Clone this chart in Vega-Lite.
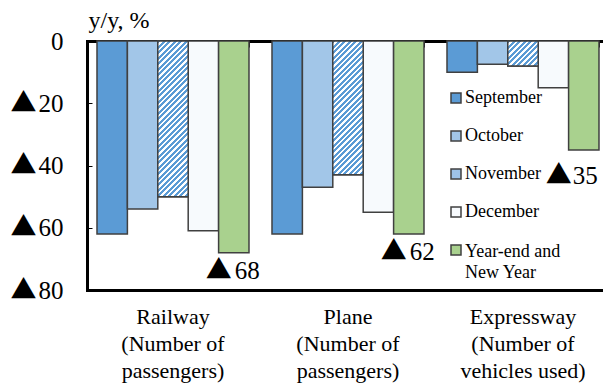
{
  "$schema": "https://vega.github.io/schema/vega-lite/v6.json",
  "width": 516,
  "height": 249,
  "autosize": "none",
  "padding": {"left": 87, "top": 41, "right": 0, "bottom": 93},
  "background": "white",
  "config": {
    "font": "Liberation Serif",
    "view": {"stroke": null},
    "axis": {"labelColor": "black", "titleColor": "black", "labelFont": "Liberation Serif", "titleFont": "Liberation Serif"},
    "legend": {"labelColor": "black", "labelFont": "Liberation Serif"}
  },
  "data": {
    "values": [
      {"cat": "Railway", "month": "September", "v": -62},
      {"cat": "Railway", "month": "October", "v": -54},
      {"cat": "Railway", "month": "November", "v": -50},
      {"cat": "Railway", "month": "December", "v": -61},
      {"cat": "Railway", "month": "Year-end and New Year", "v": -68},
      {"cat": "Plane", "month": "September", "v": -62},
      {"cat": "Plane", "month": "October", "v": -47},
      {"cat": "Plane", "month": "November", "v": -43},
      {"cat": "Plane", "month": "December", "v": -55},
      {"cat": "Plane", "month": "Year-end and New Year", "v": -62},
      {"cat": "Expressway", "month": "September", "v": -10},
      {"cat": "Expressway", "month": "October", "v": -7.5},
      {"cat": "Expressway", "month": "November", "v": -8},
      {"cat": "Expressway", "month": "December", "v": -15},
      {"cat": "Expressway", "month": "Year-end and New Year", "v": -35}
    ]
  },
  "encoding": {
    "x": {
      "field": "cat",
      "type": "nominal",
      "sort": ["Railway", "Plane", "Expressway"],
      "scale": {"paddingInner": 0.1314, "paddingOuter": 0.04, "align": 0.714},
      "axis": null
    },
    "xOffset": {
      "field": "month",
      "sort": ["September", "October", "November", "December", "Year-end and New Year"],
      "scale": {"paddingInner": 0, "paddingOuter": 0}
    },
    "y": {
      "field": "v",
      "type": "quantitative",
      "scale": {"domain": [-80, 0], "nice": false},
      "axis": null
    }
  },
  "resolve": {"axis": {"x": "independent", "y": "independent"}},
  "layer": [
    {
      "mark": {"type": "bar", "stroke": "#404040", "strokeWidth": 1.5},
      "encoding": {
        "x": {
          "field": "cat",
          "type": "nominal",
          "sort": ["Railway", "Plane", "Expressway"],
          "scale": {"paddingInner": 0.1314, "paddingOuter": 0.04, "align": 0.714},
          "axis": {
            "orient": "bottom",
            "title": null,
            "domain": true,
            "domainColor": "black",
            "domainWidth": 3,
            "domainCap": "square",
            "ticks": false,
            "labelAngle": 0,
            "labelFontSize": 22,
            "labelLineHeight": 27,
            "labelPadding": 16,
            "labelBaseline": "top",
            "labelExpr": "datum.label == 'Expressway' ? [datum.label, '(Number of', 'vehicles used)'] : [datum.label, '(Number of', 'passengers)']"
          }
        },
        "y": {
          "field": "v",
          "type": "quantitative",
          "scale": {"domain": [-80, 0], "nice": false},
          "axis": {
            "orient": "left",
            "values": [0, -20, -40, -60, -80],
            "grid": false,
            "domain": true,
            "domainColor": "black",
            "domainWidth": 3,
            "domainCap": "square",
            "tickSize": -5,
            "tickColor": "black",
            "tickWidth": 1,
            "labelFontSize": 25,
            "labelPadding": 29,
            "labelExpr": "datum.value == 0 ? '0' : '' + abs(datum.value)",
            "title": "y/y, %",
            "titleAngle": 0,
            "titleFontSize": 24,
            "titleFontWeight": "normal",
            "titleAlign": "left",
            "titleBaseline": "alphabetic",
            "titleX": 1,
            "titleY": -14
          }
        },
        "color": {
          "field": "month",
          "type": "nominal",
          "scale": {
            "domain": ["September", "October", "November", "December", "Year-end and New Year"],
            "range": ["#5B9BD5", "#A2C6E8", "#9DC2E8", "#F7FAFD", "#A9D18E"]
          },
          "legend": {
            "title": null,
            "orient": "none",
            "legendX": 360,
            "legendY": 48,
            "padding": 0,
            "symbolType": "square",
            "symbolSize": 100,
            "symbolStrokeColor": "#404040",
            "symbolStrokeWidth": 1.5,
            "symbolOpacity": 1,
            "labelFontSize": 18,
            "labelOffset": 0,
            "labelLimit": 200,
            "rowPadding": 20,
            "labelExpr": "datum.label == 'Year-end and New Year' ? ['Year-end and', 'New Year'] : datum.label",
            "encode": {
              "labels": {"update": {"dy": {"signal": "datum.value == 'Year-end and New Year' ? 2 : 0"}, "lineHeight": {"value": 21}}}
            }
          }
        }
      }
    },
    {
      "transform": [{"filter": "datum.month == 'November' && datum.cat == 'Railway'"}],
      "mark": {
        "type": "bar",
        "stroke": "#404040",
        "strokeWidth": 1.5,
        "fill": {
          "gradient": "linear", "x1": 0, "y1": 0, "x2": 0.2661, "y2": 1.3619,
          "stops": [
            {"offset": 0, "color": "#5B9BD5"},
            {"offset": 0.0125, "color": "#5B9BD5"}, {"offset": 0.0125, "color": "#FFFFFF"}, {"offset": 0.025, "color": "#FFFFFF"}, {"offset": 0.025, "color": "#5B9BD5"},
            {"offset": 0.0375, "color": "#5B9BD5"}, {"offset": 0.0375, "color": "#FFFFFF"}, {"offset": 0.05, "color": "#FFFFFF"}, {"offset": 0.05, "color": "#5B9BD5"},
            {"offset": 0.0625, "color": "#5B9BD5"}, {"offset": 0.0625, "color": "#FFFFFF"}, {"offset": 0.075, "color": "#FFFFFF"}, {"offset": 0.075, "color": "#5B9BD5"},
            {"offset": 0.0875, "color": "#5B9BD5"}, {"offset": 0.0875, "color": "#FFFFFF"}, {"offset": 0.1, "color": "#FFFFFF"}, {"offset": 0.1, "color": "#5B9BD5"},
            {"offset": 0.1125, "color": "#5B9BD5"}, {"offset": 0.1125, "color": "#FFFFFF"}, {"offset": 0.125, "color": "#FFFFFF"}, {"offset": 0.125, "color": "#5B9BD5"},
            {"offset": 0.1375, "color": "#5B9BD5"}, {"offset": 0.1375, "color": "#FFFFFF"}, {"offset": 0.15, "color": "#FFFFFF"}, {"offset": 0.15, "color": "#5B9BD5"},
            {"offset": 0.1625, "color": "#5B9BD5"}, {"offset": 0.1625, "color": "#FFFFFF"}, {"offset": 0.175, "color": "#FFFFFF"}, {"offset": 0.175, "color": "#5B9BD5"},
            {"offset": 0.1875, "color": "#5B9BD5"}, {"offset": 0.1875, "color": "#FFFFFF"}, {"offset": 0.2, "color": "#FFFFFF"}, {"offset": 0.2, "color": "#5B9BD5"},
            {"offset": 0.2125, "color": "#5B9BD5"}, {"offset": 0.2125, "color": "#FFFFFF"}, {"offset": 0.225, "color": "#FFFFFF"}, {"offset": 0.225, "color": "#5B9BD5"},
            {"offset": 0.2375, "color": "#5B9BD5"}, {"offset": 0.2375, "color": "#FFFFFF"}, {"offset": 0.25, "color": "#FFFFFF"}, {"offset": 0.25, "color": "#5B9BD5"},
            {"offset": 0.2625, "color": "#5B9BD5"}, {"offset": 0.2625, "color": "#FFFFFF"}, {"offset": 0.275, "color": "#FFFFFF"}, {"offset": 0.275, "color": "#5B9BD5"},
            {"offset": 0.2875, "color": "#5B9BD5"}, {"offset": 0.2875, "color": "#FFFFFF"}, {"offset": 0.3, "color": "#FFFFFF"}, {"offset": 0.3, "color": "#5B9BD5"},
            {"offset": 0.3125, "color": "#5B9BD5"}, {"offset": 0.3125, "color": "#FFFFFF"}, {"offset": 0.325, "color": "#FFFFFF"}, {"offset": 0.325, "color": "#5B9BD5"},
            {"offset": 0.3375, "color": "#5B9BD5"}, {"offset": 0.3375, "color": "#FFFFFF"}, {"offset": 0.35, "color": "#FFFFFF"}, {"offset": 0.35, "color": "#5B9BD5"},
            {"offset": 0.3625, "color": "#5B9BD5"}, {"offset": 0.3625, "color": "#FFFFFF"}, {"offset": 0.375, "color": "#FFFFFF"}, {"offset": 0.375, "color": "#5B9BD5"},
            {"offset": 0.3875, "color": "#5B9BD5"}, {"offset": 0.3875, "color": "#FFFFFF"}, {"offset": 0.4, "color": "#FFFFFF"}, {"offset": 0.4, "color": "#5B9BD5"},
            {"offset": 0.4125, "color": "#5B9BD5"}, {"offset": 0.4125, "color": "#FFFFFF"}, {"offset": 0.425, "color": "#FFFFFF"}, {"offset": 0.425, "color": "#5B9BD5"},
            {"offset": 0.4375, "color": "#5B9BD5"}, {"offset": 0.4375, "color": "#FFFFFF"}, {"offset": 0.45, "color": "#FFFFFF"}, {"offset": 0.45, "color": "#5B9BD5"},
            {"offset": 0.4625, "color": "#5B9BD5"}, {"offset": 0.4625, "color": "#FFFFFF"}, {"offset": 0.475, "color": "#FFFFFF"}, {"offset": 0.475, "color": "#5B9BD5"},
            {"offset": 0.4875, "color": "#5B9BD5"}, {"offset": 0.4875, "color": "#FFFFFF"}, {"offset": 0.5, "color": "#FFFFFF"}, {"offset": 0.5, "color": "#5B9BD5"},
            {"offset": 0.5125, "color": "#5B9BD5"}, {"offset": 0.5125, "color": "#FFFFFF"}, {"offset": 0.525, "color": "#FFFFFF"}, {"offset": 0.525, "color": "#5B9BD5"},
            {"offset": 0.5375, "color": "#5B9BD5"}, {"offset": 0.5375, "color": "#FFFFFF"}, {"offset": 0.55, "color": "#FFFFFF"}, {"offset": 0.55, "color": "#5B9BD5"},
            {"offset": 0.5625, "color": "#5B9BD5"}, {"offset": 0.5625, "color": "#FFFFFF"}, {"offset": 0.575, "color": "#FFFFFF"}, {"offset": 0.575, "color": "#5B9BD5"},
            {"offset": 0.5875, "color": "#5B9BD5"}, {"offset": 0.5875, "color": "#FFFFFF"}, {"offset": 0.6, "color": "#FFFFFF"}, {"offset": 0.6, "color": "#5B9BD5"},
            {"offset": 0.6125, "color": "#5B9BD5"}, {"offset": 0.6125, "color": "#FFFFFF"}, {"offset": 0.625, "color": "#FFFFFF"}, {"offset": 0.625, "color": "#5B9BD5"},
            {"offset": 0.6375, "color": "#5B9BD5"}, {"offset": 0.6375, "color": "#FFFFFF"}, {"offset": 0.65, "color": "#FFFFFF"}, {"offset": 0.65, "color": "#5B9BD5"},
            {"offset": 0.6625, "color": "#5B9BD5"}, {"offset": 0.6625, "color": "#FFFFFF"}, {"offset": 0.675, "color": "#FFFFFF"}, {"offset": 0.675, "color": "#5B9BD5"},
            {"offset": 0.6875, "color": "#5B9BD5"}, {"offset": 0.6875, "color": "#FFFFFF"}, {"offset": 0.7, "color": "#FFFFFF"}, {"offset": 0.7, "color": "#5B9BD5"},
            {"offset": 0.7125, "color": "#5B9BD5"}, {"offset": 0.7125, "color": "#FFFFFF"}, {"offset": 0.725, "color": "#FFFFFF"}, {"offset": 0.725, "color": "#5B9BD5"},
            {"offset": 0.7375, "color": "#5B9BD5"}, {"offset": 0.7375, "color": "#FFFFFF"}, {"offset": 0.75, "color": "#FFFFFF"}, {"offset": 0.75, "color": "#5B9BD5"},
            {"offset": 0.7625, "color": "#5B9BD5"}, {"offset": 0.7625, "color": "#FFFFFF"}, {"offset": 0.775, "color": "#FFFFFF"}, {"offset": 0.775, "color": "#5B9BD5"},
            {"offset": 0.7875, "color": "#5B9BD5"}, {"offset": 0.7875, "color": "#FFFFFF"}, {"offset": 0.8, "color": "#FFFFFF"}, {"offset": 0.8, "color": "#5B9BD5"},
            {"offset": 0.8125, "color": "#5B9BD5"}, {"offset": 0.8125, "color": "#FFFFFF"}, {"offset": 0.825, "color": "#FFFFFF"}, {"offset": 0.825, "color": "#5B9BD5"},
            {"offset": 0.8375, "color": "#5B9BD5"}, {"offset": 0.8375, "color": "#FFFFFF"}, {"offset": 0.85, "color": "#FFFFFF"}, {"offset": 0.85, "color": "#5B9BD5"}
          ]
        }
      },
      "encoding": {
        "x": {
          "field": "cat",
          "type": "nominal",
          "sort": ["Railway", "Plane", "Expressway"],
          "scale": {"paddingInner": 0.1314, "paddingOuter": 0.04, "align": 0.714},
          "axis": {
            "orient": "top",
            "title": null,
            "labels": false,
            "domain": true,
            "domainColor": "black",
            "domainWidth": 3,
            "domainCap": "square",
            "ticks": true,
            "tickBand": "extent",
            "tickSize": -6,
            "tickColor": "black",
            "tickWidth": 1
          }
        }
      }
    },
    {
      "transform": [{"filter": "datum.month == 'November' && datum.cat == 'Plane'"}],
      "mark": {
        "type": "bar",
        "stroke": "#404040",
        "strokeWidth": 1.5,
        "fill": {
          "gradient": "linear", "x1": 0, "y1": 0, "x2": 0.3552, "y2": 1.5635,
          "stops": [
            {"offset": 0, "color": "#5B9BD5"},
            {"offset": 0.0125, "color": "#5B9BD5"}, {"offset": 0.0125, "color": "#FFFFFF"}, {"offset": 0.025, "color": "#FFFFFF"}, {"offset": 0.025, "color": "#5B9BD5"},
            {"offset": 0.0375, "color": "#5B9BD5"}, {"offset": 0.0375, "color": "#FFFFFF"}, {"offset": 0.05, "color": "#FFFFFF"}, {"offset": 0.05, "color": "#5B9BD5"},
            {"offset": 0.0625, "color": "#5B9BD5"}, {"offset": 0.0625, "color": "#FFFFFF"}, {"offset": 0.075, "color": "#FFFFFF"}, {"offset": 0.075, "color": "#5B9BD5"},
            {"offset": 0.0875, "color": "#5B9BD5"}, {"offset": 0.0875, "color": "#FFFFFF"}, {"offset": 0.1, "color": "#FFFFFF"}, {"offset": 0.1, "color": "#5B9BD5"},
            {"offset": 0.1125, "color": "#5B9BD5"}, {"offset": 0.1125, "color": "#FFFFFF"}, {"offset": 0.125, "color": "#FFFFFF"}, {"offset": 0.125, "color": "#5B9BD5"},
            {"offset": 0.1375, "color": "#5B9BD5"}, {"offset": 0.1375, "color": "#FFFFFF"}, {"offset": 0.15, "color": "#FFFFFF"}, {"offset": 0.15, "color": "#5B9BD5"},
            {"offset": 0.1625, "color": "#5B9BD5"}, {"offset": 0.1625, "color": "#FFFFFF"}, {"offset": 0.175, "color": "#FFFFFF"}, {"offset": 0.175, "color": "#5B9BD5"},
            {"offset": 0.1875, "color": "#5B9BD5"}, {"offset": 0.1875, "color": "#FFFFFF"}, {"offset": 0.2, "color": "#FFFFFF"}, {"offset": 0.2, "color": "#5B9BD5"},
            {"offset": 0.2125, "color": "#5B9BD5"}, {"offset": 0.2125, "color": "#FFFFFF"}, {"offset": 0.225, "color": "#FFFFFF"}, {"offset": 0.225, "color": "#5B9BD5"},
            {"offset": 0.2375, "color": "#5B9BD5"}, {"offset": 0.2375, "color": "#FFFFFF"}, {"offset": 0.25, "color": "#FFFFFF"}, {"offset": 0.25, "color": "#5B9BD5"},
            {"offset": 0.2625, "color": "#5B9BD5"}, {"offset": 0.2625, "color": "#FFFFFF"}, {"offset": 0.275, "color": "#FFFFFF"}, {"offset": 0.275, "color": "#5B9BD5"},
            {"offset": 0.2875, "color": "#5B9BD5"}, {"offset": 0.2875, "color": "#FFFFFF"}, {"offset": 0.3, "color": "#FFFFFF"}, {"offset": 0.3, "color": "#5B9BD5"},
            {"offset": 0.3125, "color": "#5B9BD5"}, {"offset": 0.3125, "color": "#FFFFFF"}, {"offset": 0.325, "color": "#FFFFFF"}, {"offset": 0.325, "color": "#5B9BD5"},
            {"offset": 0.3375, "color": "#5B9BD5"}, {"offset": 0.3375, "color": "#FFFFFF"}, {"offset": 0.35, "color": "#FFFFFF"}, {"offset": 0.35, "color": "#5B9BD5"},
            {"offset": 0.3625, "color": "#5B9BD5"}, {"offset": 0.3625, "color": "#FFFFFF"}, {"offset": 0.375, "color": "#FFFFFF"}, {"offset": 0.375, "color": "#5B9BD5"},
            {"offset": 0.3875, "color": "#5B9BD5"}, {"offset": 0.3875, "color": "#FFFFFF"}, {"offset": 0.4, "color": "#FFFFFF"}, {"offset": 0.4, "color": "#5B9BD5"},
            {"offset": 0.4125, "color": "#5B9BD5"}, {"offset": 0.4125, "color": "#FFFFFF"}, {"offset": 0.425, "color": "#FFFFFF"}, {"offset": 0.425, "color": "#5B9BD5"},
            {"offset": 0.4375, "color": "#5B9BD5"}, {"offset": 0.4375, "color": "#FFFFFF"}, {"offset": 0.45, "color": "#FFFFFF"}, {"offset": 0.45, "color": "#5B9BD5"},
            {"offset": 0.4625, "color": "#5B9BD5"}, {"offset": 0.4625, "color": "#FFFFFF"}, {"offset": 0.475, "color": "#FFFFFF"}, {"offset": 0.475, "color": "#5B9BD5"},
            {"offset": 0.4875, "color": "#5B9BD5"}, {"offset": 0.4875, "color": "#FFFFFF"}, {"offset": 0.5, "color": "#FFFFFF"}, {"offset": 0.5, "color": "#5B9BD5"},
            {"offset": 0.5125, "color": "#5B9BD5"}, {"offset": 0.5125, "color": "#FFFFFF"}, {"offset": 0.525, "color": "#FFFFFF"}, {"offset": 0.525, "color": "#5B9BD5"},
            {"offset": 0.5375, "color": "#5B9BD5"}, {"offset": 0.5375, "color": "#FFFFFF"}, {"offset": 0.55, "color": "#FFFFFF"}, {"offset": 0.55, "color": "#5B9BD5"},
            {"offset": 0.5625, "color": "#5B9BD5"}, {"offset": 0.5625, "color": "#FFFFFF"}, {"offset": 0.575, "color": "#FFFFFF"}, {"offset": 0.575, "color": "#5B9BD5"},
            {"offset": 0.5875, "color": "#5B9BD5"}, {"offset": 0.5875, "color": "#FFFFFF"}, {"offset": 0.6, "color": "#FFFFFF"}, {"offset": 0.6, "color": "#5B9BD5"},
            {"offset": 0.6125, "color": "#5B9BD5"}, {"offset": 0.6125, "color": "#FFFFFF"}, {"offset": 0.625, "color": "#FFFFFF"}, {"offset": 0.625, "color": "#5B9BD5"},
            {"offset": 0.6375, "color": "#5B9BD5"}, {"offset": 0.6375, "color": "#FFFFFF"}, {"offset": 0.65, "color": "#FFFFFF"}, {"offset": 0.65, "color": "#5B9BD5"},
            {"offset": 0.6625, "color": "#5B9BD5"}, {"offset": 0.6625, "color": "#FFFFFF"}, {"offset": 0.675, "color": "#FFFFFF"}, {"offset": 0.675, "color": "#5B9BD5"},
            {"offset": 0.6875, "color": "#5B9BD5"}, {"offset": 0.6875, "color": "#FFFFFF"}, {"offset": 0.7, "color": "#FFFFFF"}, {"offset": 0.7, "color": "#5B9BD5"},
            {"offset": 0.7125, "color": "#5B9BD5"}, {"offset": 0.7125, "color": "#FFFFFF"}, {"offset": 0.725, "color": "#FFFFFF"}, {"offset": 0.725, "color": "#5B9BD5"},
            {"offset": 0.7375, "color": "#5B9BD5"}, {"offset": 0.7375, "color": "#FFFFFF"}, {"offset": 0.75, "color": "#FFFFFF"}, {"offset": 0.75, "color": "#5B9BD5"}
          ]
        }
      }
    },
    {
      "transform": [{"filter": "datum.month == 'November' && datum.cat == 'Expressway'"}],
      "mark": {
        "type": "bar",
        "stroke": "#404040",
        "strokeWidth": 1.5,
        "fill": {
          "gradient": "linear", "x1": 0, "y1": 0, "x2": 4.331, "y2": 3.547,
          "stops": [
            {"offset": 0, "color": "#5B9BD5"},
            {"offset": 0.0125, "color": "#5B9BD5"}, {"offset": 0.0125, "color": "#FFFFFF"}, {"offset": 0.025, "color": "#FFFFFF"}, {"offset": 0.025, "color": "#5B9BD5"},
            {"offset": 0.0375, "color": "#5B9BD5"}, {"offset": 0.0375, "color": "#FFFFFF"}, {"offset": 0.05, "color": "#FFFFFF"}, {"offset": 0.05, "color": "#5B9BD5"},
            {"offset": 0.0625, "color": "#5B9BD5"}, {"offset": 0.0625, "color": "#FFFFFF"}, {"offset": 0.075, "color": "#FFFFFF"}, {"offset": 0.075, "color": "#5B9BD5"},
            {"offset": 0.0875, "color": "#5B9BD5"}, {"offset": 0.0875, "color": "#FFFFFF"}, {"offset": 0.1, "color": "#FFFFFF"}, {"offset": 0.1, "color": "#5B9BD5"},
            {"offset": 0.1125, "color": "#5B9BD5"}, {"offset": 0.1125, "color": "#FFFFFF"}, {"offset": 0.125, "color": "#FFFFFF"}, {"offset": 0.125, "color": "#5B9BD5"},
            {"offset": 0.1375, "color": "#5B9BD5"}, {"offset": 0.1375, "color": "#FFFFFF"}, {"offset": 0.15, "color": "#FFFFFF"}, {"offset": 0.15, "color": "#5B9BD5"},
            {"offset": 0.1625, "color": "#5B9BD5"}, {"offset": 0.1625, "color": "#FFFFFF"}, {"offset": 0.175, "color": "#FFFFFF"}, {"offset": 0.175, "color": "#5B9BD5"},
            {"offset": 0.1875, "color": "#5B9BD5"}, {"offset": 0.1875, "color": "#FFFFFF"}, {"offset": 0.2, "color": "#FFFFFF"}, {"offset": 0.2, "color": "#5B9BD5"},
            {"offset": 0.2125, "color": "#5B9BD5"}, {"offset": 0.2125, "color": "#FFFFFF"}, {"offset": 0.225, "color": "#FFFFFF"}, {"offset": 0.225, "color": "#5B9BD5"},
            {"offset": 0.2375, "color": "#5B9BD5"}, {"offset": 0.2375, "color": "#FFFFFF"}, {"offset": 0.25, "color": "#FFFFFF"}, {"offset": 0.25, "color": "#5B9BD5"},
            {"offset": 0.2625, "color": "#5B9BD5"}, {"offset": 0.2625, "color": "#FFFFFF"}, {"offset": 0.275, "color": "#FFFFFF"}, {"offset": 0.275, "color": "#5B9BD5"}
          ]
        }
      }
    },
    {
      "transform": [{"filter": "datum.month == 'Year-end and New Year' && datum.cat != 'Expressway'"}],
      "mark": {"type": "text", "text": "▲", "align": "center", "baseline": "middle", "dx": -15, "dy": 18, "fontSize": 26, "font": "Noto Sans CJK JP", "color": "black"},
      "encoding": {
        "y": {
          "field": "v",
          "type": "quantitative",
          "scale": {"domain": [-80, 0], "nice": false},
          "axis": {
            "orient": "right",
            "offset": -593,
            "values": [0, -20, -40, -60, -80],
            "grid": false,
            "domain": false,
            "ticks": false,
            "labelAlign": "left",
            "labelPadding": 0,
            "labelFont": "Noto Sans CJK JP",
            "labelFontSize": 26,
            "labelExpr": "datum.value == 0 ? '' : '▲'",
            "title": null
          }
        }
      }
    },
    {
      "transform": [
        {"filter": "datum.month == 'Year-end and New Year' && datum.cat != 'Expressway'"},
        {"calculate": "abs(datum.v)", "as": "mag"}
      ],
      "mark": {"type": "text", "align": "left", "baseline": "middle", "dx": 1, "dy": 18, "fontSize": 25, "font": "Liberation Serif", "color": "black"},
      "encoding": {"text": {"field": "mag", "type": "quantitative"}}
    },
    {
      "transform": [{"filter": "datum.month == 'Year-end and New Year' && datum.cat == 'Expressway'"}],
      "mark": {"type": "text", "text": "▲", "align": "center", "baseline": "middle", "dx": -25, "dy": 26, "fontSize": 26, "font": "Noto Sans CJK JP", "color": "black"}
    },
    {
      "transform": [
        {"filter": "datum.month == 'Year-end and New Year' && datum.cat == 'Expressway'"},
        {"calculate": "abs(datum.v)", "as": "mag"}
      ],
      "mark": {"type": "text", "align": "left", "baseline": "middle", "dx": -11, "dy": 26, "fontSize": 25, "font": "Liberation Serif", "color": "black"},
      "encoding": {"text": {"field": "mag", "type": "quantitative"}}
    }
  ]
}
